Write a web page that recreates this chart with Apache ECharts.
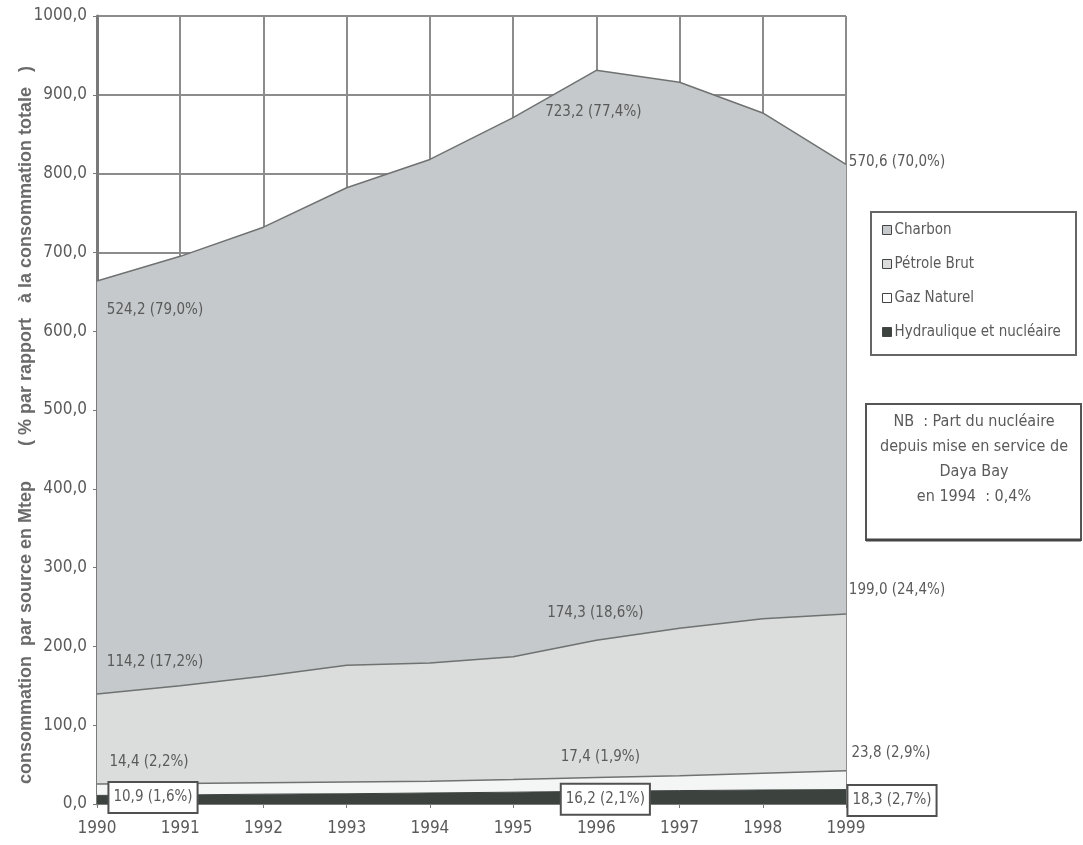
<!DOCTYPE html>
<html>
<head>
<meta charset="utf-8">
<script src="https://cdn.jsdelivr.net/npm/echarts@6/dist/echarts.min.js"></script>
<style>
html,body{margin:0;padding:0;background:#fff;}
#chart{width:1083px;height:845px;}
</style>
</head>
<body>
<div id="chart"></div>
<script>
// ---- data ----
const years = ['1990','1991','1992','1993','1994','1995','1996','1997','1998','1999'];
const hydro   = [10.9, 11.5, 12.5, 13.0, 14.0, 15.0, 16.2, 17.0, 17.8, 18.3];
const gaz     = [14.4, 14.5, 14.5, 15.0, 15.0, 16.0, 17.4, 19.0, 21.2, 23.8];
const petrole = [114.2, 124.0, 135.0, 148.0, 150.0, 156.0, 174.3, 187.0, 196.0, 199.0];
const charbon = [524.2, 545.0, 570.0, 606.0, 639.0, 684.0, 723.2, 693.0, 642.0, 570.6];
const labelledIdx = [0, 6, 9];
const charbonPct = ['79,0%', '77,4%', '70,0%'];
const petrolePct = ['17,2%', '18,6%', '24,4%'];
const gazPct     = ['2,2%', '1,9%', '2,9%'];
const hydroPct   = ['1,6%', '2,1%', '2,7%'];
const seriesNames = ['Charbon', 'Pétrole Brut', 'Gaz Naturel', 'Hydraulique et nucléaire'];
const yTitle = 'consommation  par source en Mtep       ( % par rapport   à la consommation totale   )      ';
const noteLines = ['NB  : Part du nucléaire', 'depuis mise en service de', 'Daya Bay', 'en 1994  : 0,4%'];

// ---- styling ----
const FONT = '"Liberation Sans Narrow", "Arial Narrow", "DejaVu Sans Condensed", "Liberation Sans", sans-serif';
const TXT = '#5a5a5a';
const fmt = v => v.toFixed(1).replace('.', ',');

function buildData(values, pcts, offsets, boxed) {
  return values.map((v, i) => {
    const k = labelledIdx.indexOf(i);
    if (k < 0) return { value: v, label: { show: false } };
    const lab = {
      show: true,
      position: 'inside',
      offset: offsets[k],
      formatter: fmt(v) + ' (' + pcts[k] + ')',
      color: TXT,
      fontFamily: FONT,
      fontSize: 15
    };
    if (boxed) {
      Object.assign(lab, {
        backgroundColor: '#fff',
        borderColor: '#505050',
        borderWidth: 2,
        padding: [7, 4, 7, 4]
      });
    }
    return { value: v, label: lab };
  });
}

const colors = {
  'Charbon': '#c5c9cb',
  'Pétrole Brut': '#dbdddd',
  'Gaz Naturel': '#f4f5f5',
  'Hydraulique et nucléaire': '#3c433f'
};

function areaSeries(name, values, pcts, offsets, boxed, lineColor, lineWidth) {
  return {
    name: name,
    type: 'line',
    stack: 'total',
    data: buildData(values, pcts, offsets, boxed),
    symbol: 'circle',
    symbolSize: 0,
    showSymbol: true,
    smooth: false,
    lineStyle: { color: lineColor, width: lineWidth },
    areaStyle: { color: colors[name], opacity: 1 },
    itemStyle: { color: colors[name] },
    emphasis: { disabled: true },
    silent: true,
    animation: false
  };
}

const option = {
  animation: false,
  backgroundColor: '#fff',
  grid: { left: 97, right: 237, top: 16, bottom: 41, containLabel: false, outerBoundsMode: 'none' },
  xAxis: {
    type: 'category',
    data: years,
    boundaryGap: false,
    axisLine: { show: true, lineStyle: { color: '#7a7a7a', width: 2 } },
    axisTick: { show: true, inside: false, length: 4, lineStyle: { color: '#7a7a7a' } },
    axisLabel: { color: TXT, fontFamily: FONT, fontSize: 17, margin: 16 },
    splitLine: { show: true, lineStyle: { color: '#8c8c8c', width: 2 } }
  },
  yAxis: {
    type: 'value',
    min: 0, max: 1000, interval: 100,
    name: yTitle,
    nameLocation: 'middle',
    nameRotate: 90,
    nameGap: 62,
    nameMoveOverlap: false,
    nameTextStyle: { color: '#6a6a6a', fontFamily: '"Liberation Sans", Arial, sans-serif', fontSize: 18, fontWeight: 'bold' },
    axisLine: { show: true, lineStyle: { color: '#7a7a7a', width: 3 } },
    axisTick: { show: true, length: 4, lineStyle: { color: '#7a7a7a' } },
    axisLabel: { color: TXT, fontFamily: FONT, fontSize: 17, margin: 10, formatter: v => fmt(v) },
    splitLine: { show: true, lineStyle: { color: '#8c8c8c', width: 2 } }
  },
  legend: {
    orient: 'vertical',
    left: 882, top: 221,
    padding: 0,
    itemGap: 16,
    itemWidth: 9, itemHeight: 9,
    icon: 'rect',
    selectedMode: false,
    textStyle: { color: TXT, fontFamily: FONT, fontSize: 15, lineHeight: 18, padding: [0, 0, 0, -2] },
    data: seriesNames.map(n => ({
      name: n,
      itemStyle: { color: n === 'Gaz Naturel' ? '#ffffff' : colors[n], borderColor: '#444', borderWidth: 1 }
    }))
  },
  graphic: [
    { type: 'rect', shape: { x: 871, y: 212, width: 205, height: 143 },
      style: { fill: 'none', stroke: '#666', lineWidth: 2 }, z: 10 },
    { type: 'rect', shape: { x: 866, y: 404, width: 215, height: 136 },
      style: { fill: '#fff', stroke: '#555', lineWidth: 2 }, z: 10 },
    { type: 'line', shape: { x1: 866, y1: 540, x2: 1081, y2: 540 },
      style: { stroke: '#444', lineWidth: 3 }, z: 11 }
  ].concat(noteLines.map((t, i) => ({
    type: 'text', z: 12,
    style: { text: t, x: 974, y: 422 + i * 25, align: 'center', verticalAlign: 'middle',
             fill: TXT, font: '16px ' + FONT }
  }))),
  series: [
    areaSeries('Hydraulique et nucléaire', hydro, hydroPct, [[56, 2], [9, 8], [46, 11]], true, '#3c433f', 1),
    areaSeries('Gaz Naturel', gaz, gazPct, [[52, -22], [4, -20], [45, -18]], false, '#6e7270', 1.5),
    areaSeries('Pétrole Brut', petrole, petrolePct, [[58, -32], [-1, -27], [51, -24]], false, '#6e7270', 1.5),
    areaSeries('Charbon', charbon, charbonPct, [[58, 29], [-3, 42], [51, -2]], false, '#6e7270', 1.5)
  ]
};

const chart = echarts.init(document.getElementById('chart'), null, { renderer: 'canvas' });
chart.setOption(option);
</script>
</body>
</html>
